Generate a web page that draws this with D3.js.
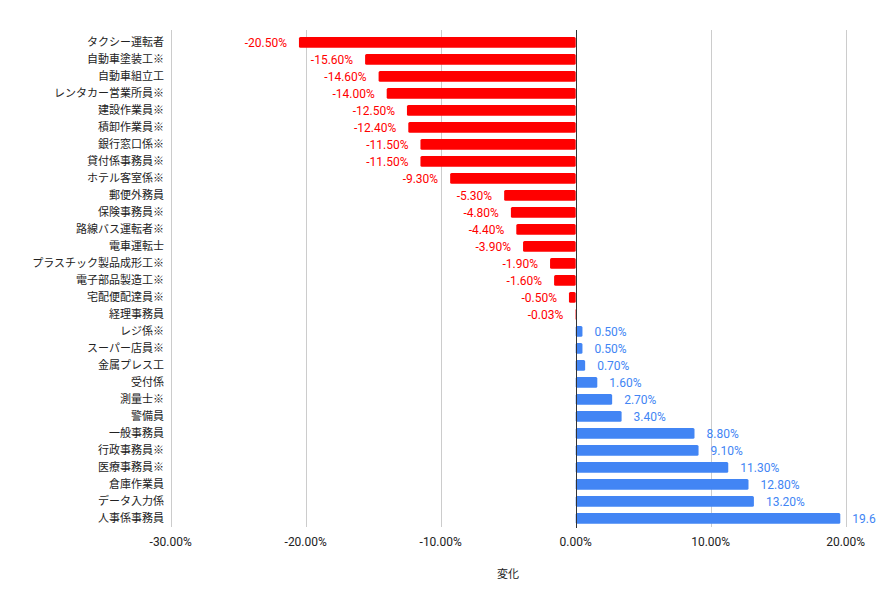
<!DOCTYPE html>
<html>
<head>
<meta charset="utf-8">
<script src="https://cdn.jsdelivr.net/npm/d3@7"></script>
<style>
  body { margin: 0; background: #fff; }
  svg { display: block; }
</style>
</head>
<body>
<div id="chart"></div>
<script>
var jobs = ['タクシー運転者', '自動車塗装工※', '自動車組立工', 'レンタカー営業所員※', '建設作業員※',
  '積卸作業員※', '銀行窓口係※', '貸付係事務員※', 'ホテル客室係※', '郵便外務員', '保険事務員※',
  '路線バス運転者※', '電車運転士', 'プラスチック製品成形工※', '電子部品製造工※', '宅配便配達員※',
  '経理事務員', 'レジ係※', 'スーパー店員※', '金属プレス工', '受付係', '測量士※', '警備員',
  '一般事務員', '行政事務員※', '医療事務員※', '倉庫作業員', 'データ入力係', '人事係事務員'];

var change = [-20.5, -15.6, -14.6, -14.0, -12.5, -12.4, -11.5, -11.5, -9.3, -5.3, -4.8,
  -4.4, -3.9, -1.9, -1.6, -0.5, -0.03, 0.5, 0.5, 0.7, 1.6, 2.7, 3.4,
  8.8, 9.1, 11.3, 12.8, 13.2, 19.6];

var xTicks = [-30, -20, -10, 0, 10, 20];
var axisTitle = '変化';

var width = 876, height = 612;
var rows = jobs.map(function(d, i) { return { job: d, value: change[i] }; });

var svg = d3.select('#chart').append('svg')
    .attr('width', width)
    .attr('height', height);

var x = d3.scaleLinear().domain([-30, 20]).range([170.7, 845.7]);
var y = d3.scaleBand().domain(jobs).range([33.8, 526.8]).paddingInner(0.37).paddingOuter(0.185);

// grid
svg.append('g')
    .selectAll('line')
    .data(xTicks.filter(function(d) { return d !== 0; }))
    .enter()
    .append('line')
    .attr('x1', function(d) { return Math.round(x(d)) + 0.5; })
    .attr('x2', function(d) { return Math.round(x(d)) + 0.5; })
    .attr('y1', 30)
    .attr('y2', 527)
    .attr('stroke', '#cccccc')
    .attr('stroke-width', 1);

// bars
svg.append('g')
    .selectAll('rect')
    .data(rows)
    .enter()
    .append('rect')
    .attr('x', function(d) { return x(Math.min(0, d.value)); })
    .attr('y', function(d) { return y(d.job); })
    .attr('width', function(d) { return Math.abs(x(d.value) - x(0)); })
    .attr('height', y.bandwidth())
    .attr('rx', 1.5)
    .attr('fill', function(d) { return d.value < 0 ? '#ff0000' : '#4285f4'; });

// zero line
svg.append('line')
    .attr('x1', Math.round(x(0)) + 0.5)
    .attr('x2', Math.round(x(0)) + 0.5)
    .attr('y1', 30)
    .attr('y2', 528)
    .attr('stroke', '#333333')
    .attr('stroke-width', 1);

// value labels
svg.append('g')
    .selectAll('text')
    .data(rows)
    .enter()
    .append('text')
    .attr('x', function(d) { return d.value < 0 ? x(d.value) - 12 : x(d.value) + 12; })
    .attr('y', function(d) { return y(d.job) + y.bandwidth() / 2; })
    .attr('dy', '0.36em')
    .attr('text-anchor', function(d) { return d.value < 0 ? 'end' : 'start'; })
    .attr('font-family', 'Roboto, Arial, sans-serif')
    .attr('font-size', 12)
    .attr('fill', function(d) { return d.value < 0 ? '#ff0000' : '#4285f4'; })
    .text(function(d) { return d.value.toFixed(2) + '%'; });

// category labels
svg.append('g')
    .selectAll('text')
    .data(rows)
    .enter()
    .append('text')
    .attr('x', 164)
    .attr('y', function(d) { return y(d.job) + y.bandwidth() / 2; })
    .attr('dy', '0.36em')
    .attr('text-anchor', 'end')
    .attr('font-family', '"Noto Sans CJK JP", sans-serif')
    .attr('font-size', 11)
    .attr('fill', '#222222')
    .text(function(d) { return d.job; });

// x tick labels
svg.append('g')
    .selectAll('text')
    .data(xTicks)
    .enter()
    .append('text')
    .attr('x', function(d) { return x(d); })
    .attr('y', 546)
    .attr('text-anchor', 'middle')
    .attr('font-family', 'Roboto, Arial, sans-serif')
    .attr('font-size', 12)
    .attr('fill', '#222222')
    .text(function(d) { return d.toFixed(2) + '%'; });

svg.append('text')
    .attr('x', 508)
    .attr('y', 578)
    .attr('text-anchor', 'middle')
    .attr('font-family', '"Noto Sans CJK JP", sans-serif')
    .attr('font-size', 11)
    .attr('fill', '#222222')
    .text(axisTitle);
</script>
</body>
</html>
